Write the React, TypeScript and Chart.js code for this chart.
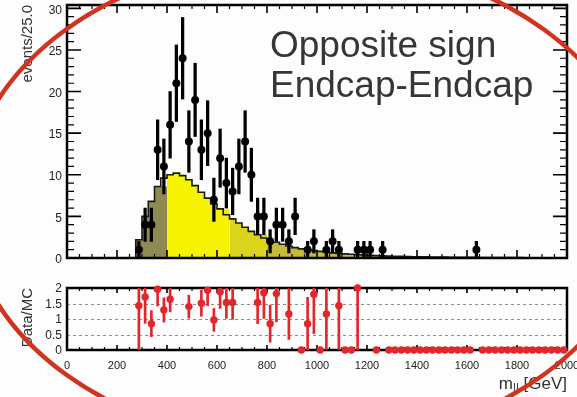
import React, { useEffect, useRef } from 'react';
import { Chart, registerables } from 'chart.js';

Chart.register(...registerables);

const FONT = "'Liberation Sans', Arial, Helvetica, sans-serif";

// ---- Observed data (events per 25 GeV bin) ----
const dataMass = [287.5, 312.5, 337.5, 362.5, 387.5, 412.5, 437.5, 462.5, 487.5, 512.5, 537.5, 562.5, 587.5, 612.5, 637.5, 662.5, 687.5, 712.5, 737.5, 762.5, 787.5, 812.5, 837.5, 862.5, 887.5, 912.5, 962.5, 987.5, 1037.5, 1062.5, 1087.5, 1162.5, 1187.5, 1212.5, 1262.5, 1637.5];
const dataCounts = [1, 4, 4, 13, 11, 16, 21, 24, 14, 19, 13, 15, 7, 12, 9, 8, 11, 14, 10, 5, 5, 2, 4, 4, 2, 5, 1, 2, 1, 2, 1, 1, 1, 1, 1, 1];
const dataErr = [1, 2, 2, 3.6, 3.3, 4, 4.6, 4.9, 3.7, 4.4, 3.6, 3.9, 2.6, 3.5, 3, 2.8, 3.3, 3.7, 3.2, 2.2, 2.2, 1.4, 2, 2, 1.4, 2.2, 1, 1.4, 1, 1.4, 1, 1, 1, 1, 1, 1];

// ---- Simulation (MC) histogram ----
const mcMass = [287.5, 312.5, 337.5, 362.5, 387.5, 412.5, 437.5, 462.5, 487.5, 512.5, 537.5, 562.5, 587.5, 612.5, 637.5, 662.5, 687.5, 712.5, 737.5, 762.5, 787.5, 812.5, 837.5, 862.5, 887.5, 912.5, 937.5, 962.5, 987.5, 1012.5, 1037.5, 1062.5, 1087.5, 1112.5, 1137.5, 1162.5, 1187.5, 1212.5, 1237.5, 1262.5, 1287.5, 1312.5, 1337.5, 1362.5, 1387.5, 1412.5, 1437.5, 1462.5, 1487.5, 1512.5, 1537.5, 1562.5, 1587.5, 1612.5, 1637.5, 1662.5, 1687.5, 1712.5, 1737.5, 1762.5, 1787.5, 1812.5, 1837.5, 1862.5, 1887.5, 1912.5, 1937.5, 1962.5, 1987.5];
const mcValues = [0.6, 2.2, 5.0, 6.8, 8.6, 9.6, 10.0, 10.2, 9.9, 9.4, 8.7, 7.9, 7.2, 6.5, 5.9, 5.2, 4.7, 4.2, 3.7, 3.2, 2.8, 2.4, 2.15, 1.9, 1.65, 1.45, 1.25, 1.1, 1.0, 0.9, 0.8, 0.7, 0.62, 0.55, 0.5, 0.45, 0.4, 0.36, 0.32, 0.29, 0.26, 0.23, 0.21, 0.19, 0.17, 0.15, 0.14, 0.13, 0.12, 0.11, 0.1, 0.09, 0.085, 0.08, 0.075, 0.07, 0.065, 0.06, 0.055, 0.05, 0.047, 0.044, 0.041, 0.038, 0.035, 0.032, 0.03, 0.028, 0.026];

// ---- Data / MC ratio ----
const ratioMass = [287.5, 312.5, 337.5, 362.5, 387.5, 412.5, 487.5, 537.5, 562.5, 587.5, 612.5, 637.5, 662.5, 762.5, 787.5, 812.5, 837.5, 887.5, 937.5, 962.5, 987.5, 1012.5, 1037.5, 1087.5, 1112.5, 1137.5, 1162.5, 1237.5, 1287.5, 1312.5, 1337.5, 1362.5, 1387.5, 1412.5, 1437.5, 1462.5, 1487.5, 1512.5, 1537.5, 1562.5, 1587.5, 1612.5, 1662.5, 1687.5, 1712.5, 1737.5, 1762.5, 1787.5, 1812.5, 1837.5, 1862.5, 1887.5, 1912.5, 1937.5, 1962.5, 1987.5];
const ratioValues = [1.43, 1.71, 0.85, 1.96, 1.29, 1.64, 1.4, 1.51, 1.93, 0.97, 1.88, 1.53, 1.53, 1.53, 1.85, 0.85, 1.82, 1.16, 0, 0.85, 1.8, 0, 1.16, 1.43, 0, 0, 2.0, 0, 0, 0, 0, 0, 0, 0, 0, 0, 0, 0, 0, 0, 0, 0, 0, 0, 0, 0, 0, 0, 0, 0, 0, 0, 0, 0, 0, 0];
const ratioErr = [1.43, 0.85, 0.42, 0.54, 0.39, 0.41, 0.37, 0.42, 0.5, 0.37, 0.54, 0.51, 0.54, 0.68, 0.83, 0.6, 0.91, 0.82, 0, 0.85, 1.27, 0, 1.16, 1.43, 0, 0, 2.0, 0, 0, 0, 0, 0, 0, 0, 0, 0, 0, 0, 0, 0, 0, 0, 0, 0, 0, 0, 0, 0, 0, 0, 0, 0, 0, 0, 0, 0];

// ---- Axis ticks ----
const mainYTicks = [0, 5, 10, 15, 20, 25, 30];
const ratioYTicks = [0, 0.5, 1, 1.5, 2];
const ratioGridLines = [0.5, 1, 1.5];
const xTicks = [0, 200, 400, 600, 800, 1000, 1200, 1400, 1600, 1800, 2000];

// ---- Texts ----
const annotationLines = ['Opposite sign', 'Endcap-Endcap'];
const yTitleMain = 'events/25.0';
const yTitleRatio = 'Data/MC';
const xTitle = 'm\u2097\u2097 [GeV]';

// ---- Styles ----
const BIN_WIDTH = 25;
const regionEdges = [400, 650, 800];
const regionColors = ['#8f8a52', '#f6f200', '#dcd41c', '#c4bc38'];
const regionOf = (m: number) => {
  let i = 0;
  while (i < regionEdges.length && m > regionEdges[i]) i++;
  return i;
};
const RED = '#e3262a';

type TickSpec = {
  axis: 'x' | 'y';
  from: number;
  to: number;
  minor: number;
  major: number;
  majLen: number;
  minLen: number;
  sides: string[];
};

function makeFramePlugin(id: string, frameWidth: number, specs: TickSpec[], hook: string, dashedY: number[] = []) {
  const draw = (chart: any) => {
    const { ctx, chartArea } = chart;
    const { left, right, top, bottom } = chartArea;
    ctx.save();
    // dashed horizontal grid
    if (dashedY.length) {
      ctx.strokeStyle = '#8c8c8c';
      ctx.lineWidth = 1;
      ctx.setLineDash([3, 3]);
      for (const v of dashedY) {
        const p = Math.round(chart.scales.y.getPixelForValue(v)) + 0.5;
        ctx.beginPath();
        ctx.moveTo(left, p);
        ctx.lineTo(right, p);
        ctx.stroke();
      }
      ctx.setLineDash([]);
    }
    ctx.strokeStyle = '#000';
    for (const s of specs) {
      const scale = chart.scales[s.axis];
      const n = Math.round((s.to - s.from) / s.minor);
      for (let i = 0; i <= n; i++) {
        const v = s.from + i * s.minor;
        const q = v / s.major;
        const isMajor = Math.abs(q - Math.round(q)) < 1e-6;
        const len = isMajor ? s.majLen : s.minLen;
        ctx.lineWidth = isMajor ? 1.6 : 1.2;
        const p = scale.getPixelForValue(v);
        ctx.beginPath();
        for (const side of s.sides) {
          if (side === 'left') { ctx.moveTo(left, p); ctx.lineTo(left + len, p); }
          if (side === 'right') { ctx.moveTo(right, p); ctx.lineTo(right - len, p); }
          if (side === 'top') { ctx.moveTo(p, top); ctx.lineTo(p, top + len); }
          if (side === 'bottom') { ctx.moveTo(p, bottom); ctx.lineTo(p, bottom - len); }
        }
        ctx.stroke();
      }
    }
    ctx.lineWidth = frameWidth;
    ctx.strokeRect(left, top, right - left, bottom - top);
    ctx.restore();
  };
  return { id, [hook]: draw } as any;
}

const annotationPlugin = {
  id: 'annotationText',
  afterDraw(chart: any) {
    const { ctx, chartArea } = chart;
    ctx.save();
    ctx.font = `37px ${FONT}`;
    ctx.fillStyle = '#363636';
    ctx.textBaseline = 'alphabetic';
    ctx.textAlign = 'left';
    ctx.fillText(annotationLines[0], chartArea.left + 203, chartArea.top + 52);
    ctx.fillText(annotationLines[1], chartArea.left + 203, chartArea.top + 92);
    ctx.restore();
  },
};

// horizontal bin-width bars: [left edge, right edge, gap] per point
const hBars = (xs: number[], ys: number[]) =>
  xs.flatMap((m, i) => [
    { x: m - BIN_WIDTH / 2, y: ys[i] },
    { x: m + BIN_WIDTH / 2, y: ys[i] },
    { x: m + BIN_WIDTH / 2, y: null },
  ]);

export default function App() {
  const topRef = useRef<HTMLCanvasElement | null>(null);
  const botRef = useRef<HTMLCanvasElement | null>(null);

  useEffect(() => {
    document.body.style.margin = '0';

    // MC fill, one stepped filled area per colour region
    const regionSets: any[] = regionColors.map((color, r) => {
      const idx = mcMass.map((m, i) => i).filter((i) => regionOf(mcMass[i]) === r);
      const pts = idx.map((i) => ({ x: mcMass[i] - BIN_WIDTH / 2, y: mcValues[i] }));
      const li = idx[idx.length - 1];
      pts.push({ x: mcMass[li] + BIN_WIDTH / 2, y: mcValues[li] });
      return {
        type: 'line',
        label: 'MC region ' + r,
        data: pts,
        stepped: 'after',
        fill: 'origin',
        backgroundColor: color,
        borderColor: 'rgba(0,0,0,0)',
        borderWidth: 0,
        pointRadius: 0,
        order: 4,
      };
    });

    const first = mcMass[0] - BIN_WIDTH / 2;
    const last = mcMass[mcMass.length - 1] + BIN_WIDTH / 2;
    const outline = [
      { x: first, y: 0 },
      ...mcMass.map((m, i) => ({ x: m - BIN_WIDTH / 2, y: mcValues[i] })),
      { x: last, y: mcValues[mcValues.length - 1] },
    ];

    const tickFont = { family: FONT, size: 12 };
    const titleFont = { family: FONT, size: 15 };

    const main = new Chart(topRef.current as HTMLCanvasElement, {
      type: 'bar',
      data: {
        datasets: [
          {
            type: 'scatter',
            label: 'Data',
            data: dataMass.map((m, i) => ({ x: m, y: dataCounts[i] })),
            pointRadius: 4,
            pointBackgroundColor: '#000',
            pointBorderColor: '#000',
            pointBorderWidth: 0,
            order: 0,
          } as any,
          {
            type: 'bar',
            label: 'Data error',
            data: dataMass.map((m, i) => ({ x: m, y: [dataCounts[i] - dataErr[i], dataCounts[i] + dataErr[i]] })),
            backgroundColor: '#000',
            barThickness: 2.6,
            grouped: false,
            order: 1,
          } as any,
          {
            type: 'line',
            label: 'Data bin width',
            data: hBars(dataMass, dataCounts),
            borderColor: '#000',
            borderWidth: 2,
            pointRadius: 0,
            fill: false,
            spanGaps: false,
            order: 1,
          } as any,
          {
            type: 'line',
            label: 'MC outline',
            data: outline,
            stepped: 'after',
            borderColor: '#1a1a1a',
            borderWidth: 1.6,
            pointRadius: 0,
            fill: false,
            order: 2,
          } as any,
          ...regionSets,
        ],
      },
      options: {
        animation: false,
        responsive: false,
        maintainAspectRatio: false,
        layout: { padding: { left: 0, right: 10, top: 5, bottom: 12 } },
        plugins: { legend: { display: false }, tooltip: { enabled: false } },
        scales: {
          x: { type: 'linear', min: 0, max: 2000, display: false, offset: false },
          y: {
            type: 'linear',
            min: 0,
            max: 30.4,
            afterFit: (s: any) => { s.width = 67; s.paddingTop = 0; s.paddingBottom = 0; },
            afterBuildTicks: (s: any) => { s.ticks = mainYTicks.map((v) => ({ value: v })); },
            ticks: {
              padding: 5,
              labelOffset: 2,
              color: '#222',
              font: tickFont,
              callback: (v: any) => String(v),
            },
            grid: { display: false, drawTicks: false },
            border: { display: false },
            title: { display: true, text: yTitleMain, align: 'end', color: '#333', font: titleFont, padding: { top: 19, bottom: 0 } },
          },
        },
      } as any,
      plugins: [
        makeFramePlugin('mainFrame', 2.5, [
          { axis: 'y', from: 0, to: 30, minor: 1, major: 5, majLen: 14, minLen: 7, sides: ['left', 'right'] },
          { axis: 'x', from: 0, to: 2000, minor: 50, major: 200, majLen: 8, minLen: 4, sides: ['top', 'bottom'] },
        ], 'afterDatasetsDraw'),
        annotationPlugin,
      ],
    });

    const ratio = new Chart(botRef.current as HTMLCanvasElement, {
      type: 'bar',
      data: {
        datasets: [
          {
            type: 'scatter',
            label: 'Data/MC',
            data: ratioMass.map((m, i) => ({ x: m, y: ratioValues[i] })),
            pointRadius: 3.7,
            pointBackgroundColor: RED,
            pointBorderColor: RED,
            pointBorderWidth: 0,
            clip: false,
            order: 0,
          } as any,
          {
            type: 'bar',
            label: 'Ratio error',
            data: ratioMass
              .map((m, i) => ({ x: m, y: [ratioValues[i] - ratioErr[i], ratioValues[i] + ratioErr[i]] }))
              .filter((_, i) => ratioErr[i] > 0),
            backgroundColor: RED,
            barThickness: 2,
            grouped: false,
            order: 1,
          } as any,
          {
            type: 'line',
            label: 'Ratio bin width',
            data: hBars(ratioMass, ratioValues),
            borderColor: RED,
            borderWidth: 2.5,
            pointRadius: 0,
            fill: false,
            spanGaps: false,
            clip: false,
            order: 1,
          } as any,
        ],
      },
      options: {
        animation: false,
        responsive: false,
        maintainAspectRatio: false,
        layout: { padding: { left: 0, right: 10, top: 18, bottom: 0 } },
        plugins: { legend: { display: false }, tooltip: { enabled: false } },
        scales: {
          x: {
            type: 'linear',
            min: 0,
            max: 2000,
            offset: false,
            afterFit: (s: any) => { s.height = 47; s.paddingLeft = 0; s.paddingRight = 0; },
            afterBuildTicks: (s: any) => { s.ticks = xTicks.map((v) => ({ value: v })); },
            ticks: { padding: 9, color: '#222', font: { family: FONT, size: 11 }, maxRotation: 0, autoSkip: false, callback: (v: any) => String(v) },
            grid: { display: false, drawTicks: false },
            border: { display: false },
            title: { display: true, text: xTitle, align: 'end', color: '#333', font: { family: FONT, size: 17 }, padding: { top: 0, bottom: 2 } },
          },
          y: {
            type: 'linear',
            min: 0,
            max: 2,
            afterFit: (s: any) => { s.width = 67; s.paddingTop = 0; s.paddingBottom = 0; },
            afterBuildTicks: (s: any) => { s.ticks = ratioYTicks.map((v) => ({ value: v })); },
            ticks: { padding: 5, labelOffset: 1, color: '#222', font: tickFont, autoSkip: false, callback: (v: any) => String(v) },
            grid: { display: false, drawTicks: false },
            border: { display: false },
            title: { display: true, text: yTitleRatio, align: 'end', color: '#333', font: titleFont, padding: { top: 19, bottom: 0 } },
          },
        },
      } as any,
      plugins: [
        makeFramePlugin('ratioFrame', 2.5, [
          { axis: 'x', from: 0, to: 2000, minor: 50, major: 200, majLen: 5, minLen: 3, sides: ['top', 'bottom'] },
        ], 'beforeDatasetsDraw', ratioGridLines),
      ],
    });

    return () => {
      main.destroy();
      ratio.destroy();
    };
  }, []);

  return (
    <div style={{ position: 'relative', width: 577, height: 397, background: '#fdfdfd', overflow: 'hidden' }}>
      <canvas ref={topRef} width={577} height={270} style={{ position: 'absolute', left: 0, top: 0, width: 577, height: 270 }} />
      <canvas ref={botRef} width={577} height={127} style={{ position: 'absolute', left: 0, top: 270, width: 577, height: 127 }} />
      <svg width={577} height={397} style={{ position: 'absolute', left: 0, top: 0, pointerEvents: 'none' }}>
        <ellipse cx={305} cy={202} rx={338} ry={244} fill="none" stroke="#d0341f" strokeWidth={4.5} />
      </svg>
    </div>
  );
}
